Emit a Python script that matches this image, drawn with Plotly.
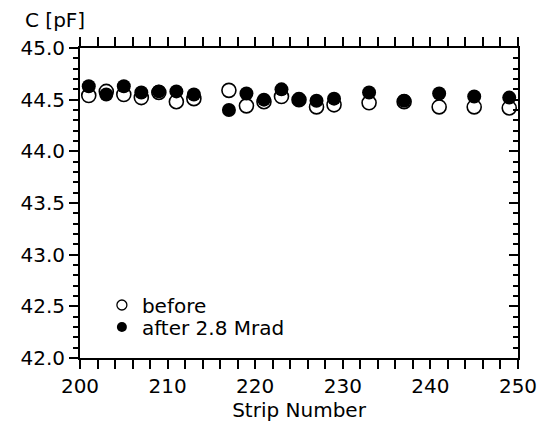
import plotly.graph_objects as go

strip = [201, 203, 205, 207, 209, 211, 213, 217, 219, 221, 223, 225, 227, 229, 233, 237, 241, 245, 249]
before = [44.54, 44.58, 44.55, 44.52, 44.57, 44.48, 44.51, 44.59, 44.44, 44.48, 44.53, 44.50, 44.43, 44.45, 44.47, 44.48, 44.43, 44.43, 44.42]
after = [44.63, 44.55, 44.63, 44.57, 44.58, 44.58, 44.55, 44.40, 44.56, 44.50, 44.60, 44.50, 44.49, 44.51, 44.57, 44.49, 44.56, 44.53, 44.52]

FONT = "DejaVu Sans, Verdana, sans-serif"

fig = go.Figure()
fig.add_trace(go.Scatter(
    x=strip, y=before, mode="markers", name="before", showlegend=False,
    marker=dict(symbol="circle-open", size=14, color="black", line=dict(width=1.6, color="black")),
))
fig.add_trace(go.Scatter(
    x=strip, y=after, mode="markers", name="after 2.8 Mrad", showlegend=False,
    marker=dict(symbol="circle", size=14, color="black"),
))
# legend entries (smaller symbols, as in the reference)
fig.add_trace(go.Scatter(
    x=[None], y=[None], mode="markers", name="before", legend="legend",
    marker=dict(symbol="circle-open", size=10, color="black", line=dict(width=1.3, color="black")),
))
fig.add_trace(go.Scatter(
    x=[None], y=[None], mode="markers", name="after 2.8 Mrad", legend="legend2",
    marker=dict(symbol="circle", size=10, color="black"),
))
# invisible trace to hold the right-hand axis
fig.add_trace(go.Scatter(x=[strip[0]], y=[after[0]], yaxis="y2", mode="markers",
                         marker=dict(opacity=0), showlegend=False, hoverinfo="skip"))

leg_common = dict(xanchor="left", yanchor="middle", bgcolor="rgba(0,0,0,0)",
                  font=dict(size=20, family=FONT), itemwidth=30, borderwidth=0)

fig.update_layout(
    width=549, height=434,
    margin=dict(l=80, r=24, t=48, b=76),
    paper_bgcolor="white", plot_bgcolor="white",
    font=dict(family=FONT, color="black", size=20),
    showlegend=True,
    legend=dict(x=0.05, y=0.171, **leg_common),
    legend2=dict(x=0.05, y=0.100, **leg_common),
    xaxis=dict(
        range=[200, 250], dtick=10, tick0=200, showgrid=False, zeroline=False,
        showline=True, linecolor="black", linewidth=2, mirror="allticks",
        ticks="outside", ticklen=9, tickwidth=2, tickcolor="black",
        minor=dict(dtick=2, ticks="outside", ticklen=5, tickwidth=2, tickcolor="black", showgrid=False),
        title=dict(text="Strip Number", font=dict(size=20), standoff=4),
        tickfont=dict(size=20),
    ),
    yaxis=dict(
        range=[42.0, 45.0], dtick=0.5, tick0=42, tickformat=".1f", showgrid=False, zeroline=False,
        showline=True, linecolor="black", linewidth=2,
        ticks="outside", ticklen=9, tickwidth=2, tickcolor="black",
        minor=dict(dtick=0.1, ticks="outside", ticklen=5, tickwidth=2, tickcolor="black", showgrid=False),
        tickfont=dict(size=20),
    ),
    yaxis2=dict(
        range=[42.0, 45.0], dtick=0.5, overlaying="y", side="right", showgrid=False, zeroline=False,
        showline=True, linecolor="black", linewidth=2, showticklabels=False,
        ticks="inside", ticklen=9, tickwidth=2, tickcolor="black",
        minor=dict(dtick=0.1, ticks="inside", ticklen=5, tickwidth=2, tickcolor="black", showgrid=False),
    ),
    annotations=[dict(text="C [pF]", xref="paper", yref="paper", x=-0.13, y=1.09,
                      xanchor="left", yanchor="middle", showarrow=False, font=dict(size=20))],
)

fig.write_html("out.html")
